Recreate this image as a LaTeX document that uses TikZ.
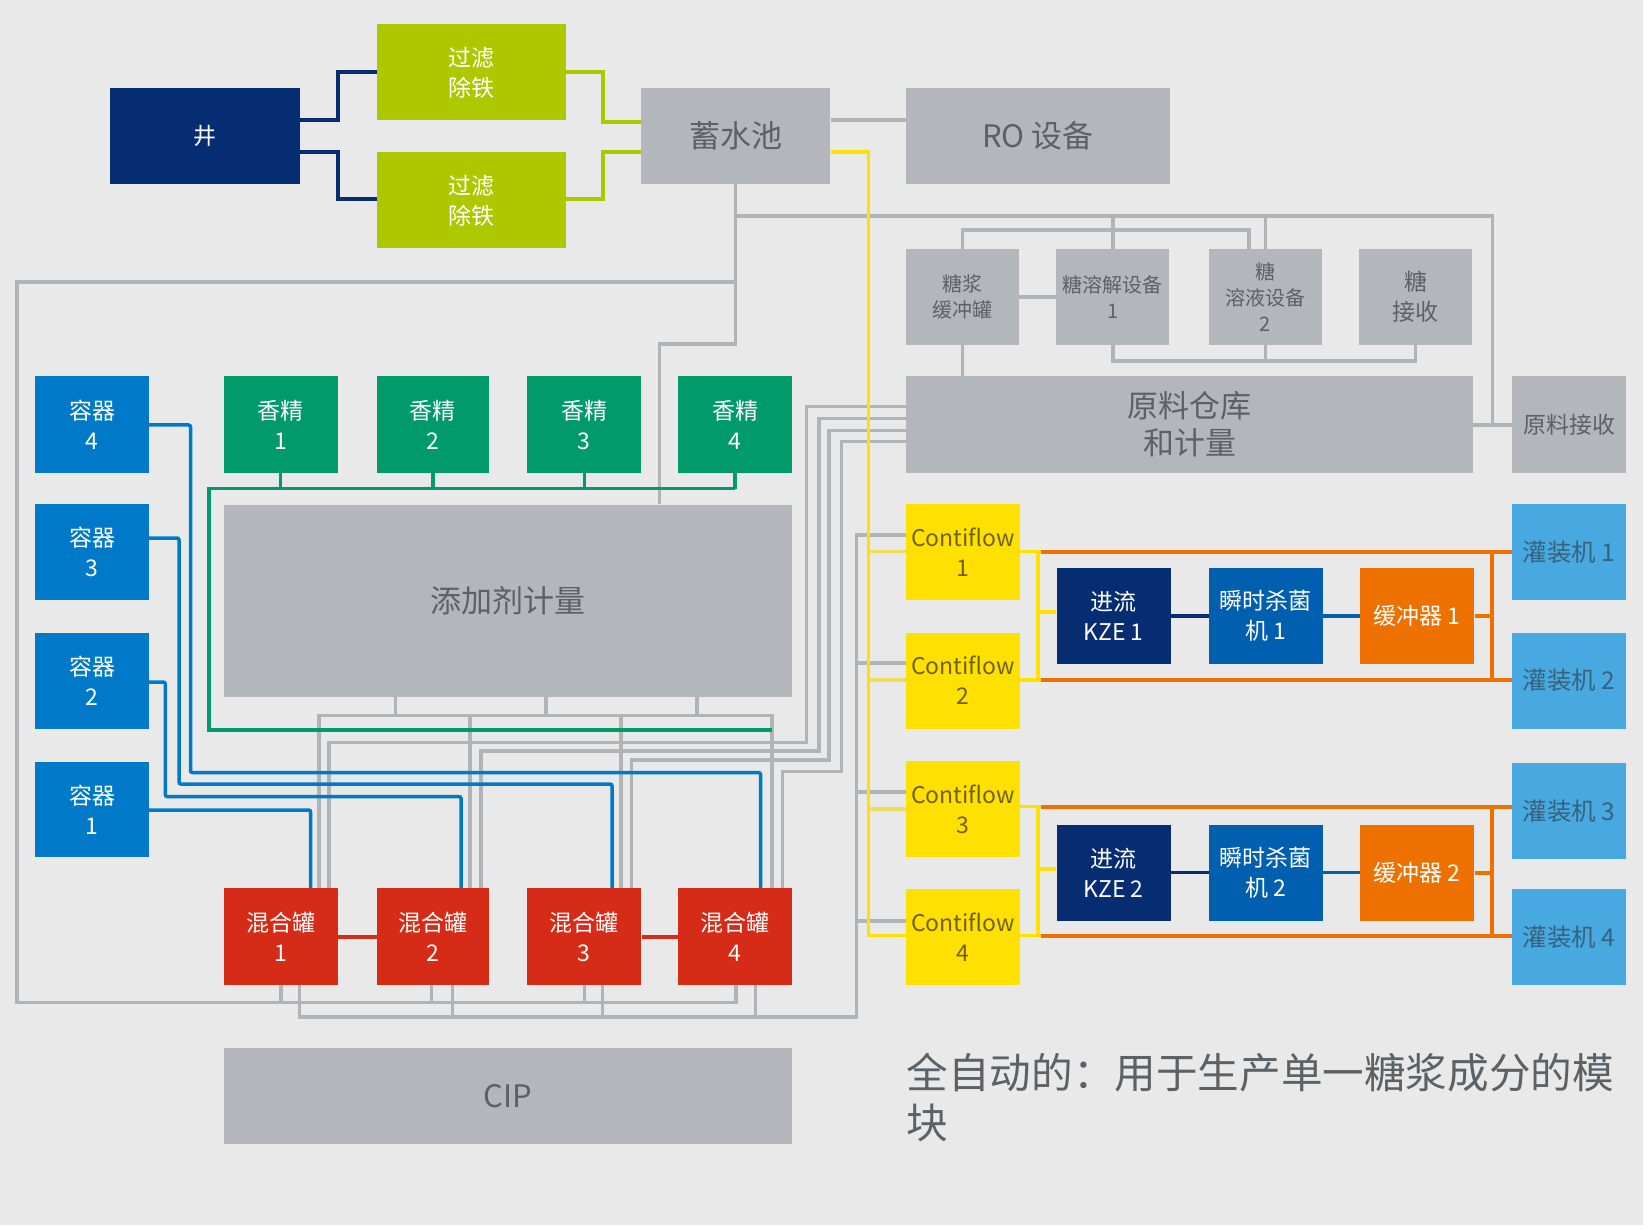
\documentclass[tikz,border=0pt]{standalone}
\usepackage{fontspec}
\setmainfont{Noto Sans CJK SC}
\usetikzlibrary{positioning}

\definecolor{pagebg}{HTML}{E9E9E9}
\definecolor{boxgray}{HTML}{B3B7BB}
\definecolor{pipegray}{HTML}{B1B4B7}
\definecolor{navy}{HTML}{062D72}
\definecolor{lime}{HTML}{AEC800}
\definecolor{leaf}{HTML}{009A6B}
\definecolor{vessel}{HTML}{0079C8}
\definecolor{tankred}{HTML}{D62B17}
\definecolor{flowyellow}{HTML}{FFE000}
\definecolor{paleyellow}{HTML}{EDDD5C}
\definecolor{buforange}{HTML}{EE7100}
\definecolor{flashblue}{HTML}{005FAE}
\definecolor{fillblue}{HTML}{48A9E0}
\definecolor{textgray}{HTML}{5C6166}
\definecolor{textbrown}{HTML}{6E6210}
\definecolor{textblue}{HTML}{35627E}

\tikzset{
	box/.style={minimum width=114pt, minimum height=96pt, inner sep=0pt, align=center, font=\fontsize{23}{30}\selectfont},
	graybox/.style={box, fill=boxgray, text=textgray},
	bigbox/.style={graybox, font=\fontsize{31}{37}\selectfont},
	smallbox/.style={graybox, minimum width=113pt, font=\fontsize{20}{26}\selectfont},
	pipe/.style={line width=3.3pt},
	graypipe/.style={pipe, pipegray},
	bluepipe/.style={pipe, vessel, line width=3.5pt, rounded corners=2pt},
	greenpipe/.style={pipe, leaf, line width=3.5pt},
	navypipe/.style={pipe, navy, line width=3.5pt},
	limepipe/.style={pipe, lime, line width=3.5pt},
	yellowpipe/.style={pipe, flowyellow, line width=3.5pt},
	palepipe/.style={pipe, paleyellow, line width=3.5pt},
	orangepipe/.style={pipe, buforange, line width=4pt},
	redpipe/.style={pipe, tankred, line width=4pt}
}

\begin{document}
\begin{tikzpicture}[x=1pt, y=-1pt]
	\useasboundingbox (0,0) rectangle (1650,1230);
	\fill[white] (0,0) rectangle (1650,1230);
	\fill[pagebg] (0,0) rectangle (1643,1225);

	\node[box, fill=navy, text=white, minimum width=190pt] (well) at (205,136) {井};
	\node[box, fill=lime, text=white, minimum width=189pt] (filterA) at (471.5,72.5) {过滤\\除铁};
	\node[box, fill=lime, text=white, minimum width=189pt] (filterB) at (471.5,200.5) {过滤\\除铁};
	\node[bigbox, minimum width=189pt] (tank) at (735.8,136) {蓄水池};
	\node[bigbox, minimum width=264pt] (ro) at (1038,136) {RO 设备};

	\node[smallbox] (syrupbuf) at (962.5,297) {糖浆\\缓冲罐};
	\node[smallbox] (dissolveA) [right=37pt of syrupbuf] {糖溶解设备\\1};
	\node[smallbox] (dissolveB) [right=39pt of dissolveA] {糖\\溶液设备\\2};
	\node[graybox, minimum width=113pt] (sugarin) [right=37pt of dissolveB] {糖\\接收};
	\node[bigbox, minimum width=567pt, minimum height=97pt] (rawstore) at (1189.5,424.5) {原料仓库\\和计量};
	\node[graybox, minimum width=114pt, minimum height=97pt] (rawin) at (1569,424.5) {原料接收};

	\node[box, fill=vessel, text=white, minimum height=97pt] (vessel4) at (92,424.5) {容器\\4};
	\node[box, fill=vessel, text=white] (vessel3) at (92,552) {容器\\3};
	\node[box, fill=vessel, text=white] (vessel2) at (92,681) {容器\\2};
	\node[box, fill=vessel, text=white, minimum height=95pt] (vessel1) at (92,809.5) {容器\\1};

	\node[box, fill=leaf, text=white, minimum height=97pt] (flavor1) at (280.5,424.5) {香精\\1};
	\node[box, fill=leaf, text=white, minimum height=97pt, minimum width=112pt] (flavor2) [right=39pt of flavor1] {香精\\2};
	\node[box, fill=leaf, text=white, minimum height=97pt] (flavor3) [right=38pt of flavor2] {香精\\3};
	\node[box, fill=leaf, text=white, minimum height=97pt] (flavor4) [right=36.5pt of flavor3] {香精\\4};
	\node[bigbox, minimum width=568pt, minimum height=192pt] (additive) at (507.5,600.5) {添加剂计量};

	\node[box, fill=tankred, text=white, minimum height=97pt] (mixer1) at (280.5,936.5) {混合罐\\1};
	\node[box, fill=tankred, text=white, minimum height=97pt, minimum width=112pt] (mixer2) [right=39pt of mixer1] {混合罐\\2};
	\node[box, fill=tankred, text=white, minimum height=97pt] (mixer3) [right=38pt of mixer2] {混合罐\\3};
	\node[box, fill=tankred, text=white, minimum height=97pt] (mixer4) [right=36.5pt of mixer3] {混合罐\\4};
	\node[bigbox, minimum width=568pt] (cip) at (507.5,1096) {CIP};

	\node[box, fill=flowyellow, text=textbrown] (conti1) at (963,552) {Contiflow\\1};
	\node[box, fill=flowyellow, text=textbrown] (conti2) at (963,680.5) {Contiflow\\2};
	\node[box, fill=flowyellow, text=textbrown] (conti3) at (963,809) {Contiflow\\3};
	\node[box, fill=flowyellow, text=textbrown] (conti4) at (963,937) {Contiflow\\4};

	\node[box, fill=navy, text=white] (kze1) at (1113.5,616) {进流\\KZE 1};
	\node[box, fill=flashblue, text=white] (flash1) [right=38pt of kze1] {瞬时杀菌\\机 1};
	\node[box, fill=buforange, text=white] (buffer1) [right=37pt of flash1] {缓冲器 1};
	\node[box, fill=navy, text=white] (kze2) at (1113.5,872.5) {进流\\KZE 2};
	\node[box, fill=flashblue, text=white] (flash2) [right=38pt of kze2] {瞬时杀菌\\机 2};
	\node[box, fill=buforange, text=white] (buffer2) [right=37pt of flash2] {缓冲器 2};

	\node[box, fill=fillblue, text=textblue, font=\fontsize{24.5}{30}\selectfont] (filler1) at (1569,552) {灌装机 1};
	\node[box, fill=fillblue, text=textblue, font=\fontsize{24.5}{30}\selectfont] (filler2) at (1569,680.5) {灌装机 2};
	\node[box, fill=fillblue, text=textblue, font=\fontsize{24.5}{30}\selectfont] (filler3) at (1569,811) {灌装机 3};
	\node[box, fill=fillblue, text=textblue, font=\fontsize{24.5}{30}\selectfont] (filler4) at (1569,937) {灌装机 4};

	\node[anchor=north west, inner sep=0pt, align=left, text=textgray, font=\fontsize{41.6}{50}\selectfont] (caption) at (906.5,1053) {全自动的：用于生产单一糖浆成分的模\\块};

	\coordinate (tankdrop) at (735.8,282);
	\coordinate (tanktop) at (735.8,216);

	\draw[graypipe] (tank.south) -- (735.8,344) -| (additive.north -| 659.5,0);
	\draw[graypipe] (tankdrop) -| (17,1002.5) -| (mixer4.south -| 736,0);
	\foreach \n/\x in {1/281,2/431.7,3/584.4}
		\draw[graypipe] (mixer\n.south -| \x,0) -- (\x,1002.5);
	\draw[graypipe] (mixer1.south -| 299.7,0) |- (856.5,1017) |- (conti1.west |- 0,535);
	\foreach \n/\x in {2/452.4,3/602.8,4/755.5}
		\draw[graypipe] (mixer\n.south -| \x,0) -- (\x,1017);
	\foreach \n/\y in {2/663,3/792,4/921}
		\draw[graypipe] (856.5,\y) -- (conti\n.west |- 0,\y);

	\draw[graypipe] (tank.east |- 0,120) -- (ro.west |- 0,120);
	\draw[graypipe] (tanktop) -| (1492.4,425);
	\draw[graypipe] (rawstore.east |- 0,425) -- (rawin.west |- 0,425);
	\draw[graypipe] (dissolveA |- tanktop) -- (dissolveA.north);
	\draw[graypipe] (dissolveB |- tanktop) -- (dissolveB.north);
	\draw[graypipe] (syrupbuf.north) |- (1249,230) -- (dissolveB.north -| 1249,0);
	\draw[graypipe] (syrupbuf) -- (dissolveA);
	\draw[graypipe] (syrupbuf.south) -- (rawstore.north -| syrupbuf);
	\draw[graypipe] (dissolveA.south) |- (sugarin |- 0,361) -- (sugarin.south);
	\draw[graypipe] (dissolveB.south) -- (dissolveB |- 0,361);

	\foreach \x in {395.5,546,697}
		\draw[graypipe] (additive.south -| \x,0) -- (\x,715.3);
	\draw[graypipe] (mixer1.north -| 319,0) |- (772,715.3) -- (mixer4.north -| 772,0);
	\foreach \n/\x in {2/470,3/621}
		\draw[graypipe] (\x,715.3) -- (mixer\n.north -| \x,0);
	\foreach \y/\xa/\yb/\xb/\n in {406.7/806.7/742.3/329/1,418.3/819/751/481/2,430.7/829/760/631.5/3,441.7/841.7/771.7/782.3/4}
		\draw[graypipe] (rawstore.west |- 0,\y) -| (\xa,\yb) -| (mixer\n.north -| \xb,0);

	\draw[bluepipe] (vessel4.east |- 0,425) -| (190.5,772.6) -| (mixer4.north -| 760.6,0);
	\draw[bluepipe] (vessel3.east |- 0,538) -| (179,784) -| (mixer3.north -| 612,0);
	\draw[bluepipe] (vessel2.east |- 0,682) -| (165.3,796.6) -| (mixer2.north -| 461,0);
	\draw[bluepipe] (vessel1.east |- 0,810) -| (mixer1.north -| 310.6,0);

	\foreach \n in {1,...,4}
		\draw[greenpipe] (flavor\n.south) -- (flavor\n |- 0,488.7);
	\draw[greenpipe] (flavor4 |- 0,488.7) -| (209,730) -- (772,730);

	\draw[navypipe] (well.east |- 0,120) -| (338,72) -- (filterA.west |- 0,72);
	\draw[navypipe] (well.east |- 0,152) -| (338,199) -- (filterB.west |- 0,199);
	\draw[limepipe] (filterA.east |- 0,72) -| (603,122) -- (tank.west |- 0,122);
	\draw[limepipe] (filterB.east |- 0,199) -| (603,152) -- (tank.west |- 0,152);

	\foreach \n/\y in {1/551.7,2/680,3/809}
		\draw[palepipe] (868.7,\y) -- (conti\n.west |- 0,\y);
	\draw[yellowpipe] (tank.east |- 0,152) -| (868.7,935.7) -- (conti4.west |- 0,935.7);

	\foreach \k/\a/\b/\ya/\yb/\yk in {1/1/2/551.7/680/612,2/3/4/806.7/935.7/869} {
		\draw[yellowpipe] (conti\a.east |- 0,\ya) -- (1041,\ya);
		\draw[yellowpipe] (conti\b.east |- 0,\yb) -- (1041,\yb);
		\draw[yellowpipe] (1038,\ya) -- (1038,\yb);
		\draw[yellowpipe] (1038,\yk) -- (kze\k.west |- 0,\yk);
		\draw[orangepipe] (1041,\ya) -- (filler\a.west |- 0,\ya);
		\draw[orangepipe] (1041,\yb) -- (filler\b.west |- 0,\yb);
		\draw[orangepipe] (1492,\ya) -- (1492,\yb);
		\draw[orangepipe] (buffer\k) -- (buffer\k -| 1492,0);
		\draw[navypipe] (kze\k) -- (flash\k);
		\draw[pipe, flashblue, line width=3.5pt] (flash\k) -- (buffer\k);
	}

	\draw[redpipe] (mixer1) -- (mixer2);
	\draw[redpipe] (mixer3) -- (mixer4);
\end{tikzpicture}
\end{document}
